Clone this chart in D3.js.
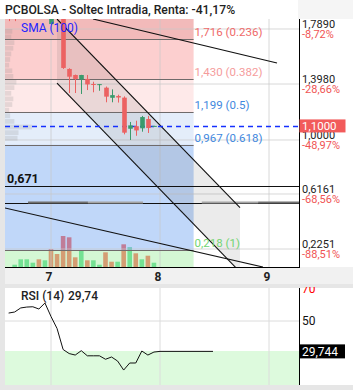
<!DOCTYPE html>
<html><head><meta charset="utf-8">
<script src="https://cdn.jsdelivr.net/npm/d3@7/dist/d3.min.js"></script>
<style>body{margin:0;background:#e6e6e6;}svg{display:block;font-family:Roboto,"Noto Sans",sans-serif;}</style>
</head><body><svg id="c" width="353" height="390"></svg>
<script>
// ---------- data ----------
const title = "PCBOLSA - Soltec Intradia, Renta: -41,17%";
const barStart = -1;                 // index of first bar
const opens  = [1.95,1.95,1.92,1.94,1.96,1.97,1.92,1.824,1.93,1.90,1.505,1.462,1.431,1.434,1.398,1.394,1.372,1.300,1.313,1.301,1.080,1.098,1.083,1.149,1.099];
const highs  = [1.97,1.97,1.96,1.98,1.99,1.98,1.96,1.96,1.95,1.92,1.51,1.465,1.463,1.462,1.414,1.398,1.38,1.36,1.322,1.31,1.128,1.137,1.171,1.171,1.101];
const lows   = [1.845,1.845,1.88,1.90,1.93,1.90,1.89,1.82,1.87,1.505,1.334,1.334,1.327,1.355,1.339,1.350,1.268,1.268,1.266,1.04,1.00,1.03,1.059,1.05,1.099];
const closes = [1.93,1.92,1.94,1.96,1.97,1.92,1.95,1.93,1.90,1.512,1.450,1.434,1.462,1.395,1.394,1.397,1.308,1.319,1.302,1.052,1.104,1.068,1.163,1.085,1.100];
const volumes = [0,23,77,77,43,77,67,180,130,310,297,97,163,67,67,23,147,53,53,227,197,137,77,113,43];
const volUp   = [1,1,1,1,1,0,1,0,0,0,0,0,1,0,1,1,0,0,1,0,1,0,1,0,1];
const rsiValues = [55.3,56,58.7,59.3,59.5,58,62,53,45,31,28.3,27.3,30.2,26.8,26.8,26.8,24.5,26,23.3,17.3,22,22,30,27.3,29.3,29.744];
const rsiProjEnd = 32.75;            // flat projection of last RSI
const rsiLast = 29.744, rsiLastLabel = "29,744";
const dayTicks = [6,24,42];
const dayLabels = ["7","8","9"];
const priceTicks = [1.789,1.398,1.0,0.6161,0.2251];
const priceTickLabels = ["1,7890","1,3980","1,0000","0,6161","0,2251"];
const pctLabels = ["-8,72%","-28,66%","-48,97%","-68,56%","-88,51%"];
const lastPrice = 1.10, lastPriceLabel = "1,1000";
const fibTop = 2.179;
const fibLevels = [1.716,1.430,1.199,0.967,0.218];
const fibRatios = ["0.236","0.382","0.5","0.618","1"];
const fibEndIdx = 29.55;
const fibZoneColors = ["rgb(229,118,118)","rgb(249,160,160)","rgb(253,211,211)","rgb(201,219,245)","rgb(130,176,243)","rgb(170,240,170)"];
const fibLabelColors = ["#f06a6a","#f59c9c","#3f88de","#3f88de","#72d472"];
const supportLevel = 0.671, supportLabel = "0,671";
const hLevel2 = 0.552;
const grayBands = [[2.2,12.1,"#707070"],[12.1,21.2,"#a4a4a4"],[30.9,40.2,"#a4a4a4"],[40.2,48,"#707070"]];
const channelIdx = [6.99,37.21];
const channelUpper = [1.860,0.520];
const channelLower = [1.405,0.062];
const trendLines = [[12.94,1.860,43.32,1.547],[-1.6,0.517,41,0.097]];
const profPrices = [1.77,1.73,1.69,1.65,1.61,1.57,1.53,1.49,1.45,1.41,1.37,1.33,1.29,1.25,1.21,1.17,1.13,1.09,1.05,1.01];
const profVols   = [7,6,9,8,6,5,4,7,8,11,9,6,8,7,4,5,9,26,13,12];

// ---------- scales ----------
const svg = d3.select("#c");
const L=5, R=299, T=19, B=267;
const x = d3.scaleLinear().domain([6,24]).range([51,160]);
const y = d3.scaleLinear().domain([1.398,0.2251]).range([84,249]);
const yv = d3.scaleLinear().domain([0,310]).range([B,B-31]);
const RT=288, RB=385;
const yr = d3.scaleLinear().domain([50,30]).range([321,351]);
const xp = d3.scaleLinear().domain([0,26]).range([L,L+27]);
const bars = opens.map((o,k)=>({i:barStart+k,o,h:highs[k],l:lows[k],c:closes[k],v:volumes[k],up:volUp[k]}));

// ---------- backgrounds ----------
svg.append("rect").attr("x",0).attr("y",0).attr("width",298).attr("height",T).attr("fill","#fff");
svg.append("rect").attr("x",298).attr("y",0).attr("width",55).attr("height",T).attr("fill","#f5f5f5");
svg.append("rect").attr("x",L).attr("y",T).attr("width",353-L).attr("height",B-T).attr("fill","#fff");
svg.append("rect").attr("x",L).attr("y",B).attr("width",353-L).attr("height",17).attr("fill","#f1f1f1");
svg.append("rect").attr("x",L).attr("y",RT).attr("width",353-L).attr("height",RB-RT).attr("fill","#fff");

const defs = svg.append("defs");
defs.append("clipPath").attr("id","cm").append("rect").attr("x",L).attr("y",T).attr("width",R-L).attr("height",B-T);
defs.append("clipPath").attr("id","cr").append("rect").attr("x",L).attr("y",RT).attr("width",R-L).attr("height",RB-RT);
defs.append("clipPath").attr("id","ca").append("rect").attr("x",R).attr("y",RT-1).attr("width",60).attr("height",RB-RT+1);

const g = svg.append("g").attr("clip-path","url(#cm)");

// volume (under translucent fib zones)
g.selectAll(".vol").data(bars.filter(d=>d.v>0)).join("rect")
 .attr("x",d=>x(d.i)-2.3).attr("width",4.6)
 .attr("y",d=>yv(d.v)).attr("height",d=>B-yv(d.v))
 .attr("fill",d=>d.up?"#3fd27c":"#ff4a3d");

// fib zones
const zoneBounds = [fibTop,...fibLevels,0];
for(let k=0;k<zoneBounds.length-1;k++){
  g.append("rect").attr("x",L-20).attr("width",x(fibEndIdx)-L+20)
   .attr("y",y(zoneBounds[k])).attr("height",y(zoneBounds[k+1])-y(zoneBounds[k]))
   .attr("fill",fibZoneColors[k]).attr("fill-opacity",0.5);
}

// grid
g.selectAll(".gx").data(dayTicks).join("line")
 .attr("x1",d=>x(d)).attr("x2",d=>x(d)).attr("y1",T).attr("y2",B)
 .attr("stroke","#c8c8c8").attr("stroke-opacity",0.7);
g.selectAll(".gy").data(priceTicks).join("line")
 .attr("x1",L).attr("x2",R).attr("y1",d=>y(d)).attr("y2",d=>y(d))
 .attr("stroke","#c8c8c8").attr("stroke-opacity",0.7);

// volume profile
g.selectAll(".prof").data(profPrices).join("rect")
 .attr("x",L).attr("width",(d,k)=>xp(profVols[k])-L)
 .attr("y",d=>y(d+0.019)).attr("height",d=>y(d-0.019)-y(d+0.019)-0.6)
 .attr("fill","#8c8c8c").attr("fill-opacity",0.22);

// channel fill
const chPts = [[channelIdx[0],channelUpper[0]],[channelIdx[1],channelUpper[1]],[channelIdx[1],channelLower[1]],[channelIdx[0],channelLower[0]]];
g.append("path").attr("d",d3.line().x(d=>x(d[0])).y(d=>y(d[1]))(chPts)+"Z")
 .attr("fill","#5a5a5a").attr("fill-opacity",0.12);

// fib lines
g.selectAll(".fl").data(fibLevels).join("line")
 .attr("x1",L).attr("x2",x(fibEndIdx)).attr("y1",d=>Math.round(y(d))+0.5).attr("y2",d=>Math.round(y(d))+0.5)
 .attr("stroke","#6f6a6a").attr("stroke-width",1);

// horizontal lines
[supportLevel,hLevel2].forEach(p=>{
  g.append("line").attr("x1",L).attr("x2",R).attr("y1",Math.round(y(p))+0.5).attr("y2",Math.round(y(p))+0.5)
   .attr("stroke","#111").attr("stroke-width",1.1);
});
grayBands.forEach(b=>{
  g.append("line").attr("x1",x(b[0])).attr("x2",x(b[1])).attr("y1",y(hLevel2)-0.5).attr("y2",y(hLevel2)-0.5)
   .attr("stroke",b[2]).attr("stroke-width",1.8);
});

// channel lines + trend lines
const segs = [[channelIdx[0],channelUpper[0],channelIdx[1],channelUpper[1]],[channelIdx[0],channelLower[0],channelIdx[1],channelLower[1]],...trendLines];
g.selectAll(".tl").data(segs).join("line")
 .attr("x1",d=>x(d[0])).attr("y1",d=>y(d[1])).attr("x2",d=>x(d[2])).attr("y2",d=>y(d[3]))
 .attr("stroke","#111").attr("stroke-width",1.1);

// last price dashed line
g.append("line").attr("x1",L).attr("x2",R).attr("y1",Math.round(y(lastPrice))+0.5).attr("y2",Math.round(y(lastPrice))+0.5)
 .attr("stroke","#1530ff").attr("stroke-width",1.3).attr("stroke-dasharray","5,4");

// candles
const cg = g.selectAll(".cd").data(bars).join("g");
cg.append("line").attr("x1",d=>Math.round(x(d.i))+0.5).attr("x2",d=>Math.round(x(d.i))+0.5)
 .attr("y1",d=>y(d.h)).attr("y2",d=>y(d.l))
 .attr("stroke",d=>d.c>=d.o?"#3a9a6c":"#ec6262").attr("stroke-width",1);
cg.append("rect").attr("x",d=>Math.round(x(d.i))+0.5-2.3).attr("width",4.6)
 .attr("y",d=>y(Math.max(d.o,d.c))).attr("height",d=>Math.max(1,Math.abs(y(d.o)-y(d.c))))
 .attr("fill",d=>d.c>=d.o?"#3a9a6c":"#ec6262");

// fib labels
svg.selectAll(".fbl").data(fibLevels).join("text")
 .attr("x",x(fibEndIdx)+1).attr("y",d=>y(d)-3)
 .attr("font-size",11.5).attr("fill",(d,k)=>fibLabelColors[k])
 .text((d,k)=>d.toFixed(3).replace(".",",")+" ("+fibRatios[k]+")");

// support label
svg.append("text").attr("x",7).attr("y",y(supportLevel)-3).attr("font-size",12.5).attr("font-weight",700).attr("fill","#111").text(supportLabel);

// SMA label
svg.append("text").attr("x",21).attr("y",32).attr("font-size",12).attr("fill","#2323ff").text("SMA (100)");

// title
svg.append("text").attr("x",5).attr("y",14).attr("font-size",12.2).attr("font-weight",500).attr("fill","#222").text(title);

// frame
svg.append("line").attr("x1",R+0.5).attr("x2",R+0.5).attr("y1",T).attr("y2",B+0.5).attr("stroke","#000");
svg.append("line").attr("x1",L).attr("x2",R+1).attr("y1",B+0.5).attr("y2",B+0.5).attr("stroke","#000");

// right price axis
svg.selectAll(".pt").data(priceTicks).join("text")
 .attr("x",302).attr("y",d=>y(d)-5).attr("dy","0.35em").attr("font-size",11).attr("fill","#222")
 .text((d,k)=>priceTickLabels[k]);
svg.selectAll(".pp").data(priceTicks).join("text")
 .attr("x",302).attr("y",d=>y(d)+5.5).attr("dy","0.35em").attr("font-size",11).attr("fill","#f05454")
 .text((d,k)=>pctLabels[k]);
svg.append("rect").attr("x",R+0.5).attr("y",y(lastPrice)-6.5).attr("width",46).attr("height",13).attr("fill","#f25b5b");
svg.append("text").attr("x",302).attr("y",y(lastPrice)).attr("dy","0.35em").attr("font-size",11.5).attr("fill","#fff").text(lastPriceLabel);

// x axis labels
svg.selectAll(".xl").data(dayTicks).join("text")
 .attr("x",d=>x(d)-2).attr("y",277).attr("dy","0.35em").attr("text-anchor","middle")
 .attr("font-size",12).attr("font-weight",700).attr("fill","#222").text((d,k)=>dayLabels[k]);

// ---------- RSI panel ----------
const rg = svg.append("g").attr("clip-path","url(#cr)");
rg.append("rect").attr("x",L).attr("width",R-L).attr("y",yr(30)).attr("height",RB-yr(30)).attr("fill","#ddfadd");
rg.selectAll(".rgx").data(dayTicks).join("line")
 .attr("x1",d=>x(d)).attr("x2",d=>x(d)).attr("y1",RT).attr("y2",RB).attr("stroke","#dcdcdc");
rg.append("line").attr("x1",L).attr("x2",R).attr("y1",yr(50)).attr("y2",yr(50)).attr("stroke","#dcdcdc");
const rsiPts = rsiValues.map((v,k)=>[barStart+k,v]);
rsiPts.push([rsiProjEnd,rsiLast]);
rg.append("path").attr("d",d3.line().x(d=>x(d[0])).y(d=>yr(d[1]))(rsiPts))
 .attr("fill","none").attr("stroke","#111").attr("stroke-width",1);
svg.append("text").attr("x",21).attr("y",296).attr("dy","0.35em").attr("font-size",12).attr("font-weight",500).attr("fill","#222").text("RSI (14)");
svg.append("text").attr("x",68).attr("y",296).attr("dy","0.35em").attr("font-size",12).attr("font-weight",500).attr("fill","#222").text(d3.format(".2f")(rsiLast).replace(".",","));
svg.append("line").attr("x1",R+0.5).attr("x2",R+0.5).attr("y1",RT).attr("y2",RB).attr("stroke","#000");
const ra = svg.append("g").attr("clip-path","url(#ca)");
ra.append("text").attr("x",302).attr("y",yr(70)-2).attr("dy","0.35em").attr("font-size",12).attr("fill","#f00").text("70");
ra.append("text").attr("x",302).attr("y",yr(50)).attr("dy","0.35em").attr("font-size",12).attr("fill","#111").text("50");
svg.append("rect").attr("x",R).attr("y",yr(rsiLast)-7).attr("width",46).attr("height",14).attr("fill","#000");
svg.append("text").attr("x",302).attr("y",yr(rsiLast)).attr("dy","0.35em").attr("font-size",12).attr("fill","#fff").text(rsiLastLabel);
</script></body></html>
